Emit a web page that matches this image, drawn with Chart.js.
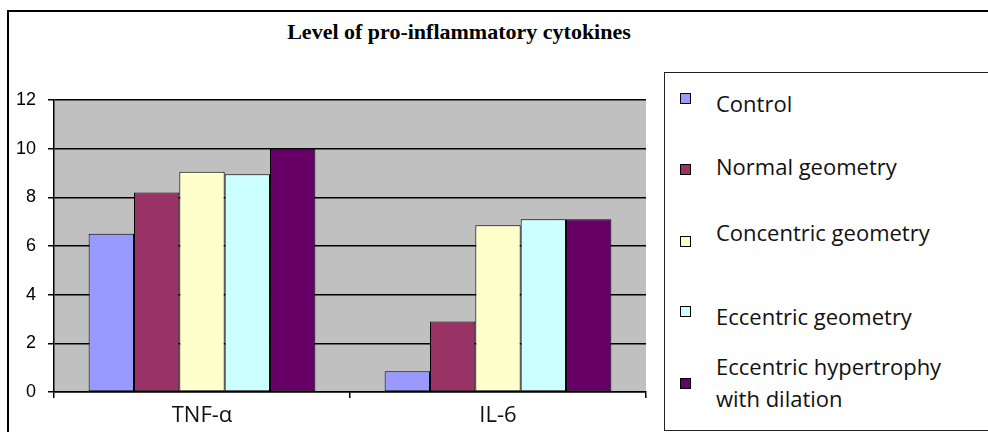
<!DOCTYPE html>
<html>
<head>
<meta charset="utf-8">
<script src="https://cdn.jsdelivr.net/npm/chart.js@4.4.1/dist/chart.umd.min.js"></script>
<style>
  html, body { margin: 0; padding: 0; background: #fff; }
  #wrap { position: relative; width: 988px; height: 432px; overflow: hidden; }
  #frame { position: absolute; left: 7px; top: 10px; width: 990px; height: 430px;
           border-left: 2px solid #000; border-top: 2px solid #000; }
  #title { position: absolute; left: 0; width: 918px; top: 19px; text-align: center;
           font: bold 22px "Liberation Serif", "Times New Roman", serif; color: #000; }
  #legend { position: absolute; left: 664px; top: 72px; width: 400px; height: 357px;
            border: 1px solid #222; background: #fff; }
  .box { position: absolute; left: 15px; width: 9px; height: 9px; border: 1px solid #000; }
  .txt { position: absolute; left: 51px; font: 22px "Open Sans", "Noto Sans", sans-serif;
         color: #111; line-height: 32px; white-space: nowrap; }
  canvas { position: absolute; left: 0; top: 0; }
</style>
</head>
<body>
<div id="wrap">
  <div id="frame"></div>
  <div id="title">Level of pro-inflammatory cytokines</div>
  <canvas id="chart" width="988" height="432"></canvas>
  <div id="legend"></div>
</div>
<script>
// Données
const categories = ["TNF-\u03b1", "IL-6"];
const seriesNames = ["Control", "Normal geometry", "Concentric geometry", "Eccentric geometry", "Eccentric hypertrophy\nwith dilation"];
const control = [6.5, 0.85];
const normalGeometry = [8.2, 2.9];
const concentricGeometry = [9.05, 6.85];
const eccentricGeometry = [8.95, 7.1];
const eccentricDilation = [10.0, 7.1];
const yTicks = [0, 2, 4, 6, 8, 10, 12];

const seriesColors = ["#9999FF", "#993366", "#FFFFCC", "#CCFFFF", "#660066"];
// position verticale des lignes de légende (texte, carré)
const legendTextTops = [14, 77, 143, 227, 277];
const legendBoxTops = [20, 91, 163, 233, 305];

const seriesValues = [control, normalGeometry, concentricGeometry, eccentricGeometry, eccentricDilation];

// Fond gris de la zone de tracé
const plotBackground = {
    id: 'plotBackground',
    beforeDraw(chart) {
        const { ctx, chartArea } = chart;
        ctx.save();
        ctx.fillStyle = '#C0C0C0';
        ctx.fillRect(chartArea.left, chartArea.top, chartArea.right - chartArea.left, chartArea.bottom - chartArea.top);
        ctx.restore();
    }
};

new Chart(document.getElementById('chart').getContext('2d'), {
    type: 'bar',
    data: {
        labels: categories,
        datasets: seriesValues.map((vals, i) => ({
            label: seriesNames[i],
            data: vals,
            backgroundColor: seriesColors[i],
            borderColor: '#000',
            borderWidth: 1,
            borderSkipped: false,
            barPercentage: 1,
            categoryPercentage: 0.766
        }))
    },
    options: {
        responsive: false,
        animation: false,
        layout: { padding: { left: 0, top: 100, right: 342, bottom: 0 } },
        plugins: {
            legend: { display: false },
            title: { display: false },
            tooltip: { enabled: false }
        },
        scales: {
            x: {
                offset: true,
                grid: { offset: true, drawOnChartArea: false, drawTicks: true, tickLength: 6, color: '#000', lineWidth: 1.5 },
                border: { color: '#000', width: 1.5 },
                ticks: { color: '#111', padding: 5, font: { family: '"Open Sans", "Noto Sans", sans-serif', size: 22 } },
                afterFit(scale) { scale.height = 40; }
            },
            y: {
                min: 0,
                max: 12,
                afterBuildTicks(scale) { scale.ticks = yTicks.map(v => ({ value: v })); },
                grid: { color: '#000', lineWidth: 1.5, tickLength: 6, drawTicks: true },
                border: { color: '#000', width: 1.5 },
                ticks: { color: '#000', padding: 12, font: { family: '"Liberation Sans", Arial, sans-serif', size: 18 } },
                afterFit(scale) { scale.width = 54; }
            }
        }
    },
    plugins: [plotBackground]
});

// Légende HTML construite à partir des séries
const legend = document.getElementById('legend');
seriesNames.forEach((name, i) => {
    const box = document.createElement('div');
    box.className = 'box';
    box.style.top = legendBoxTops[i] + 'px';
    box.style.background = seriesColors[i];
    legend.appendChild(box);

    const txt = document.createElement('div');
    txt.className = 'txt';
    txt.style.top = legendTextTops[i] + 'px';
    txt.innerHTML = name.split('\n').join('<br>');
    legend.appendChild(txt);
});
</script>
</body>
</html>
